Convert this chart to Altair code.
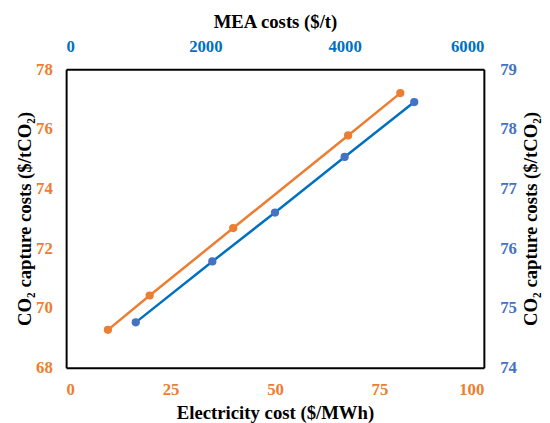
import altair as alt
import pandas as pd

elec_cost = [10, 20, 40, 67.5, 80]
capture_elec = [69.27, 70.42, 72.68, 75.78, 77.2]
mea_cost = [1000, 2100, 3000, 4000, 5000]
capture_mea = [74.76, 75.78, 76.60, 77.53, 78.45]

df_e = pd.DataFrame({"elec": elec_cost, "cost": capture_elec})
df_m = pd.DataFrame({"mea": mea_cost, "cost": capture_mea})

ORANGE = "#ED7D31"
BLUE_LINE = "#0070C0"
BLUE_PT = "#4472C4"
FONT = "Liberation Serif"

orange = alt.Chart(df_e).mark_line(
    color=ORANGE, strokeWidth=2.5,
    point=alt.OverlayMarkDef(filled=True, size=70, color=ORANGE, opacity=1),
).encode(
    x=alt.X("elec:Q", scale=alt.Scale(domain=[0, 100], nice=False),
            axis=alt.Axis(orient="bottom", values=[0, 25, 50, 75, 100],
                          title="Electricity cost ($/MWh)", labelColor=ORANGE,
                          labelPadding=14, titlePadding=7)),
    y=alt.Y("cost:Q", scale=alt.Scale(domain=[68, 78], nice=False, zero=False),
            axis=alt.Axis(orient="left", values=[68, 70, 72, 74, 76, 78],
                          title="CO₂ capture costs ($/tCO₂)", labelColor=ORANGE,
                          labelPadding=14, titlePadding=1)),
)

blue = alt.Chart(df_m).mark_line(
    color=BLUE_LINE, strokeWidth=2.5,
    point=alt.OverlayMarkDef(filled=True, size=70, color=BLUE_PT, opacity=1),
).encode(
    x=alt.X("mea:Q", scale=alt.Scale(domain=[0, 6000], nice=False),
            axis=alt.Axis(orient="top", values=[0, 2000, 4000, 6000], format="d",
                          title="MEA costs ($/t)", labelColor=BLUE_LINE,
                          labelPadding=14, titlePadding=6)),
    y=alt.Y("cost:Q", scale=alt.Scale(domain=[74, 79], nice=False, zero=False),
            axis=alt.Axis(orient="right", values=[74, 75, 76, 77, 78, 79],
                          title="CO₂ capture costs ($/tCO₂)", labelColor=BLUE_PT,
                          labelPadding=16, titlePadding=5,
                          titleAngle=270, titleBaseline="top")),
)

chart = alt.layer(orange, blue).resolve_scale(
    x="independent", y="independent"
).properties(
    width=424, height=303,
    autosize=alt.AutoSizeParams(type="none"),
    padding={"left": 59, "top": 59, "right": 59, "bottom": 56},
).configure_view(stroke=None).configure_axis(
    grid=False, ticks=False, domainColor="black", domainWidth=2,
    labelFont=FONT, labelFontWeight="bold", labelFontSize=17,
    titleFont=FONT, titleFontWeight="bold", titleFontSize=19, titleColor="black",
)

chart.save("out.html", embed_options={"renderer": "svg", "actions": False})
